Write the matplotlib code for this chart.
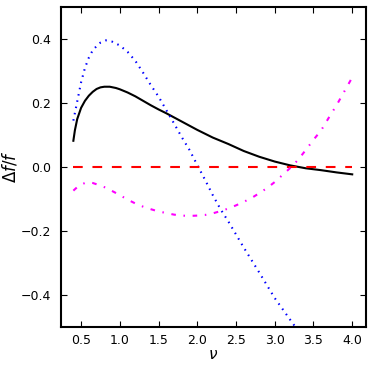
import matplotlib
matplotlib.use('Agg')
import matplotlib.pyplot as plt

# values
nu_black = [0.40, 0.42, 0.45, 0.50, 0.55, 0.60, 0.65, 0.70, 0.75, 0.80, 0.87, 0.95,
            1.00, 1.10, 1.20, 1.30, 1.40, 1.50, 1.60, 1.70, 1.80, 1.90, 2.00, 2.20,
            2.40, 2.60, 2.80, 3.00, 3.20, 3.40, 3.60, 3.80, 4.00]
df_black = [0.082, 0.115, 0.150, 0.185, 0.207, 0.223, 0.235, 0.244, 0.249, 0.251, 0.251, 0.247,
            0.243, 0.233, 0.221, 0.207, 0.193, 0.180, 0.168, 0.155, 0.142, 0.129, 0.116, 0.092,
            0.072, 0.050, 0.032, 0.017, 0.005, -0.004, -0.010, -0.017, -0.023]

nu_blue = [0.40, 0.45, 0.50, 0.55, 0.60, 0.65, 0.70, 0.75, 0.82, 0.90, 1.00, 1.10,
           1.20, 1.30, 1.40, 1.50, 1.60, 1.70, 1.80, 1.90, 2.00, 2.10, 2.20, 2.30,
           2.40, 2.60, 2.80, 3.00, 3.20, 3.40]
df_blue = [0.145, 0.205, 0.265, 0.310, 0.342, 0.365, 0.378, 0.389, 0.396, 0.392, 0.380, 0.360,
           0.332, 0.295, 0.256, 0.220, 0.178, 0.136, 0.093, 0.053, 0.006, -0.040, -0.088, -0.132,
           -0.170, -0.252, -0.330, -0.410, -0.478, -0.545]

nu_mag = [0.40, 0.45, 0.50, 0.55, 0.60, 0.65, 0.70, 0.80, 0.90, 1.00, 1.10, 1.20,
          1.30, 1.40, 1.50, 1.60, 1.70, 1.80, 1.90, 2.00, 2.10, 2.20, 2.30, 2.40,
          2.50, 2.60, 2.70, 2.80, 2.90, 3.00, 3.10, 3.20, 3.30, 3.40, 3.50, 3.60,
          3.70, 3.80, 3.90, 4.00]
df_mag = [-0.074, -0.063, -0.055, -0.050, -0.048, -0.050, -0.054, -0.063, -0.075, -0.088, -0.102, -0.114,
          -0.124, -0.132, -0.139, -0.144, -0.149, -0.152, -0.153, -0.152, -0.150, -0.145, -0.138, -0.130,
          -0.120, -0.109, -0.097, -0.082, -0.066, -0.047, -0.025, -0.003, 0.022, 0.053, 0.085, 0.115,
          0.155, 0.194, 0.237, 0.280]

nu_red = [0.40, 4.00]
df_red = [0.0, 0.0]

plt.rcParams['lines.scale_dashes'] = False
plt.rcParams['font.size'] = 9

fig = plt.figure(figsize=(3.74, 3.74), dpi=100)
ax = fig.add_axes([0.163, 0.126, 0.816, 0.855])

ax.plot(nu_black, df_black, color='black', lw=1.5)
ax.plot(nu_blue, df_blue, color='blue', lw=1.5, dashes=(1.1, 3.5))
ax.plot(nu_red, df_red, color='red', lw=1.5, dashes=(7, 7))
ax.plot(nu_mag, df_mag, color='magenta', lw=1.5, dashes=(3.3, 5.5, 1.1, 5.5))

ax.set_xlim(0.24, 4.18)
ax.set_ylim(-0.5, 0.5)
ax.set_xticks([0.5, 1.0, 1.5, 2.0, 2.5, 3.0, 3.5, 4.0])
ax.set_yticks([-0.4, -0.2, 0.0, 0.2, 0.4])

ax.tick_params(direction='in', top=True, right=True, length=4, width=0.8)
ax.tick_params(axis='x', pad=5)
ax.tick_params(axis='y', pad=7)
for s in ax.spines.values():
    s.set_linewidth(1.5)

ax.set_xlabel(r'$\nu$', fontsize=11, labelpad=0)
ax.set_ylabel(r'$\Delta f/f$', fontsize=12)
ax.yaxis.set_label_coords(-0.135, 0.5)

fig.savefig('out.png', dpi=100)
